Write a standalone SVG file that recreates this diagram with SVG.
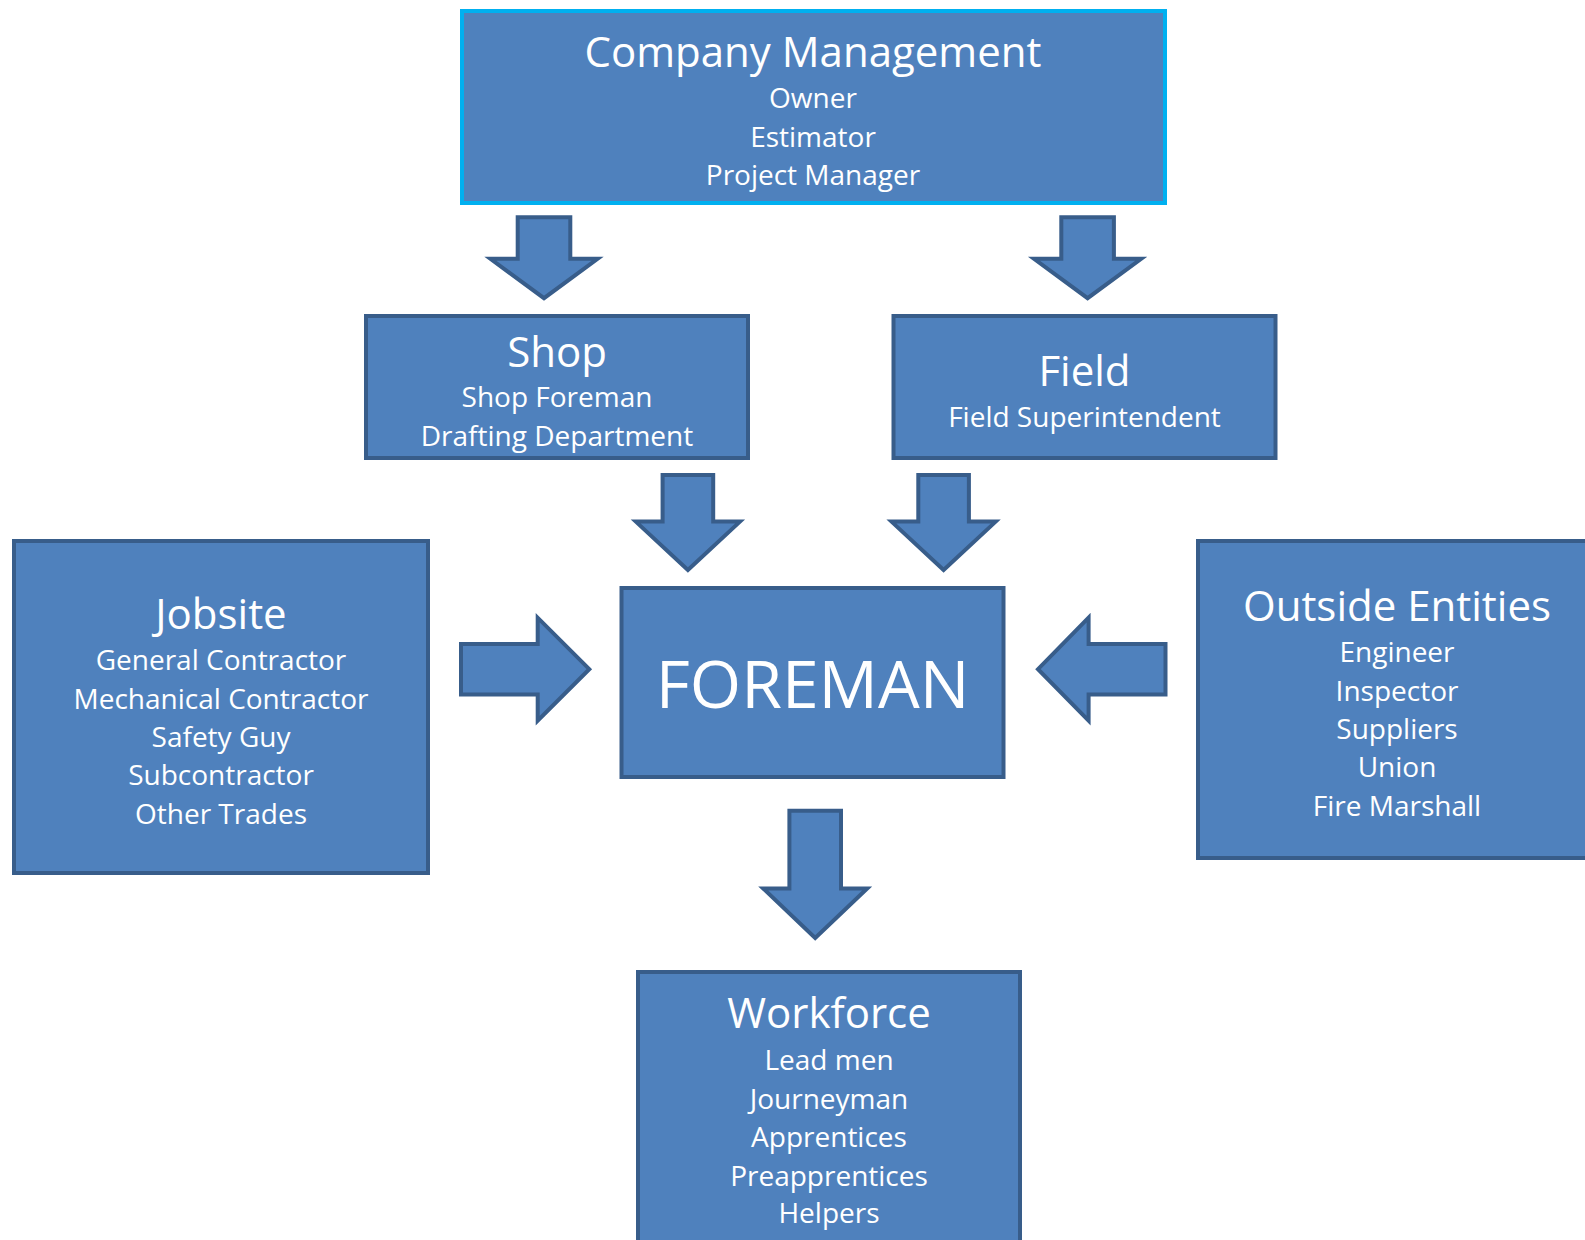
<svg xmlns="http://www.w3.org/2000/svg" width="1585" height="1240" viewBox="0 0 1585 1240">
  <style>
    .box { fill: #4f81bd; stroke: #385d8a; stroke-width: 4; }
    .top { stroke: #00b0f0; }
    .arrow { fill: #4f81bd; stroke: #385d8a; stroke-width: 4; stroke-linejoin: miter; }
    text { font-family: "Open Sans", "Noto Sans", "Liberation Sans", sans-serif; fill: #ffffff; text-anchor: middle; }
    .title { font-size: 42px; }
    .item { font-size: 28px; }
    .big { font-size: 66px; }
  </style>
  <rect width="1585" height="1240" fill="#ffffff"/>

  <!-- connectors: block arrows -->
  <g id="connectors">
    <path class="arrow" d="M517.7,217.3 H570.3 V258.8 H597.6 L544,298.2 L490.4,258.8 H517.7 Z"/>
    <path class="arrow" d="M1061.3,217.3 H1113.9 V258.8 H1141.2 L1087.6,298.2 L1034,258.8 H1061.3 Z"/>
    <path class="arrow" d="M662.6,475 H713.2 V521.6 H740 L687.9,570 L635.8,521.6 H662.6 Z"/>
    <path class="arrow" d="M918.3,475 H968.9 V521.6 H995.7 L943.6,570 L891.5,521.6 H918.3 Z"/>
    <path class="arrow" d="M461,643.9 H537.7 V617.7 L589.3,669.2 L537.7,720.7 V694.5 H461 Z"/>
    <path class="arrow" d="M1165.5,643.9 H1088.6 V617.7 L1038,669.2 L1088.6,720.7 V694.5 H1165.5 Z"/>
    <path class="arrow" d="M789.4,810.7 H841 V888.5 H867.2 L815.2,938 L763.2,888.5 H789.4 Z"/>
  </g>

  <g id="company-management">
    <rect class="box top" x="462" y="11" width="703" height="192"/>
    <text class="title" x="813" y="67">Company Management</text>
    <text class="item" x="813" y="108">Owner</text>
    <text class="item" x="813" y="146.5">Estimator</text>
    <text class="item" x="813" y="185">Project Manager</text>
  </g>

  <g id="shop">
    <rect class="box" x="366" y="316" width="382" height="142"/>
    <text class="title" x="557" y="367">Shop</text>
    <text class="item" x="557" y="407">Shop Foreman</text>
    <text class="item" x="557" y="446">Drafting Department</text>
  </g>

  <g id="field">
    <rect class="box" x="893.5" y="316" width="382" height="142"/>
    <text class="title" x="1084.5" y="386">Field</text>
    <text class="item" x="1084.5" y="426.5">Field Superintendent</text>
  </g>

  <g id="foreman">
    <rect class="box" x="621.5" y="588" width="382" height="189"/>
    <text class="big" x="812.6" y="707.5">FOREMAN</text>
  </g>

  <g id="jobsite">
    <rect class="box" x="14" y="541" width="414" height="332"/>
    <text class="title" x="221" y="628.7">Jobsite</text>
    <text class="item" x="221" y="670">General Contractor</text>
    <text class="item" x="221" y="708.5">Mechanical Contractor</text>
    <text class="item" x="221" y="746.5">Safety Guy</text>
    <text class="item" x="221" y="785.4">Subcontractor</text>
    <text class="item" x="221" y="823.8">Other Trades</text>
  </g>

  <g id="outside-entities">
    <rect class="box" x="1198" y="541" width="420" height="317"/>
    <text class="title" x="1397" y="620.6">Outside Entities</text>
    <text class="item" x="1397" y="662">Engineer</text>
    <text class="item" x="1397" y="700.5">Inspector</text>
    <text class="item" x="1397" y="739">Suppliers</text>
    <text class="item" x="1397" y="777">Union</text>
    <text class="item" x="1397" y="815.7">Fire Marshall</text>
  </g>

  <g id="workforce">
    <rect class="box" x="638" y="972" width="382" height="300"/>
    <text class="title" x="829" y="1028">Workforce</text>
    <text class="item" x="829" y="1070">Lead men</text>
    <text class="item" x="829" y="1109">Journeyman</text>
    <text class="item" x="829" y="1146.5">Apprentices</text>
    <text class="item" x="829" y="1185.7">Preapprentices</text>
    <text class="item" x="829" y="1223">Helpers</text>
  </g>
</svg>
